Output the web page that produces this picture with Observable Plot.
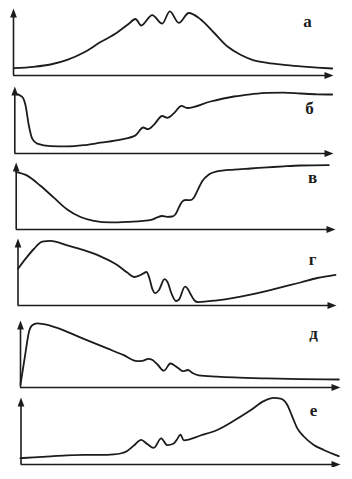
<!DOCTYPE html>
<html><head><meta charset="utf-8">
<script src="https://cdn.jsdelivr.net/npm/d3@7"></script>
<script src="https://cdn.jsdelivr.net/npm/@observablehq/plot@0.6"></script>
<style>
html,body{margin:0;padding:0;background:#fff;}
#chart svg{display:block;}
</style></head><body><div id="chart"></div>
<script>
// Panel labels
const labels = ["а", "б", "в", "г", "д", "е"];

// Curves: [x, height above the x-axis]
const curveA = [[13.3,7.3],[33.3,8.7],[50,11],[66.7,15.6],[83.3,23],[100,33.4],[116.7,43],[128,51.5],[135,56.5],[140.7,50],[151.7,60.3],[161.7,51.9],[169.3,64.1],[178.3,52.6],[188.3,62.5],[200,56.3],[213.3,43],[226.7,29.2],[240,20.7],[253.3,15.2],[266.7,12.7],[283.3,10.7],[300,9.2],[316.7,7.9],[331.7,7]];
const curveB = [[14.3,60],[21.7,56.6],[25,48.2],[28.3,28.2],[31.7,14.8],[36.7,9.8],[50,7.3],[66.7,7.1],[83.3,8.3],[100,10.8],[120,13.9],[135,18.1],[142.7,26],[147.3,24.3],[153.3,28.6],[161.7,37.5],[166.7,35.7],[173.3,40.1],[181,47.6],[186.7,45.5],[210,52],[233.3,57],[250,59.2],[266.7,60.7],[283.3,60.9],[300,60],[316.7,59.2],[331.7,59]];
const curveV = [[15.7,57.3],[26.7,53.9],[40,43.7],[53.3,31.8],[66.7,20],[80,12.5],[93.3,8.7],[110,7.1],[126.7,7.6],[140,8.4],[151.7,9.9],[156.7,12.2],[161.7,13.5],[166.7,12.7],[171.7,13],[175,15.3],[178.3,21.9],[181.7,27.9],[185,29.5],[190,29.4],[193.3,31.7],[196.7,38.3],[201.7,48.3],[208.3,54.9],[216.7,58.1],[233.3,59.9],[250,61],[266.7,62.1],[283.3,63.2],[300,64],[328.3,64.3]];
const curveG = [[17.5,36.7],[25,46.6],[33.3,56.5],[41.7,63.8],[50,64.7],[66.7,60.2],[83.3,55.3],[100,49.1],[116.7,40.6],[126.7,32.9],[134,28.5],[140,30.5],[146,33.5],[149,27],[152,16],[155,12.3],[158.5,15.5],[164,26.3],[167,23.5],[171,12],[175.5,4.5],[178.5,6],[184.5,18.8],[187,17],[190,11.5],[194,5],[197.5,3.4],[216.7,5.2],[233.3,7.7],[250,10.9],[266.7,14.7],[283.3,18.9],[300,23],[316.7,27.5],[335,30.7]];
const curveD = [[20,3],[25,34.9],[28.3,54.9],[31.7,62.2],[36.7,64.2],[43.3,63.4],[56.7,59.6],[73.3,52.8],[90,45.9],[106.7,39.1],[123.3,32.3],[136.7,26.4],[141.7,26.6],[148,28.7],[152,27.5],[157,23],[163.3,16.8],[170,24],[174,22],[178.3,19],[182.5,16.3],[187.5,17.5],[192,14.5],[198,12.2],[216.7,10.9],[233.3,10.1],[266.7,9.1],[300,8.4],[338.3,8]];
const curveE = [[20,6.3],[33.3,7.2],[50,8.1],[66.7,9.2],[83.3,9.7],[100,9.6],[113.3,10.1],[120,11],[126.7,13.5],[133.3,18.9],[140.7,24.6],[146.7,20.5],[153.3,16.7],[160.7,26.1],[166.7,19.3],[173.3,21],[176.5,25],[180,29.9],[183.3,24.2],[200,29],[216.7,34.5],[233.3,43.7],[250,54.2],[263.3,63.4],[273.3,66.6],[280,65.9],[286.7,59.8],[291.7,48.1],[296.7,36.4],[303.3,28],[313.3,19.6],[323.3,14.5],[338.3,8.3]];
const curves = [curveA, curveB, curveV, curveG, curveD, curveE];

// Layout (positions, not data)
const layout = [
  {x0: 13,   xEnd: 333, height: 78, labelX: 307, labelY: 54},
  {x0: 14.3, xEnd: 333, height: 78, labelX: 309, labelY: 45},
  {x0: 15.7, xEnd: 335, height: 76, labelX: 312, labelY: 52},
  {x0: 17.5, xEnd: 336, height: 76, labelX: 312, labelY: 46},
  {x0: 20,   xEnd: 340, height: 82, labelX: 313, labelY: 54},
  {x0: 20.5, xEnd: 340, height: 77, labelX: 313, labelY: 54}
];
const axisLen = 67, mb = 3, ink = "#1c1c1c";

// Narrow filled arrowhead: tip at origin, pointing up
const arrowHead = {draw(ctx) { ctx.moveTo(0, 0); ctx.lineTo(3.4, 9); ctx.lineTo(-3.4, 9); ctx.closePath(); }};

const root = document.getElementById("chart");
curves.forEach((data, i) => {
  const L = layout[i];
  const svg = Plot.plot({
    width: 352, height: L.height,
    marginLeft: L.x0, marginRight: 352 - L.xEnd, marginTop: L.height - mb - axisLen, marginBottom: mb,
    x: {domain: [L.x0, L.xEnd], axis: null},
    y: {domain: [0, axisLen], axis: null},
    style: {background: "white", overflow: "visible"},
    marks: [
      Plot.ruleX([L.x0], {y1: 0, y2: axisLen - 6, stroke: ink, strokeWidth: 1.6}),
      Plot.ruleY([0], {x1: L.x0, x2: L.xEnd - 6, stroke: ink, strokeWidth: 1.6}),
      Plot.dot([{x: L.x0, y: axisLen}], {x: "x", y: "y", symbol: arrowHead, fill: ink, stroke: "none", r: 3}),
      Plot.dot([{x: L.xEnd, y: 0}], {x: "x", y: "y", symbol: arrowHead, fill: ink, stroke: "none", r: 3, rotate: 90}),
      Plot.line(data, {x: d => d[0], y: d => d[1], curve: "monotone-x", stroke: ink, strokeWidth: 1.8, strokeLinejoin: "round"}),
      Plot.text([labels[i]], {x: L.labelX, y: L.labelY, text: d => d, fontSize: 17, fontWeight: "bold", fontFamily: "Liberation Serif", fill: ink})
    ]
  });
  root.appendChild(svg);
});
</script></body></html>
